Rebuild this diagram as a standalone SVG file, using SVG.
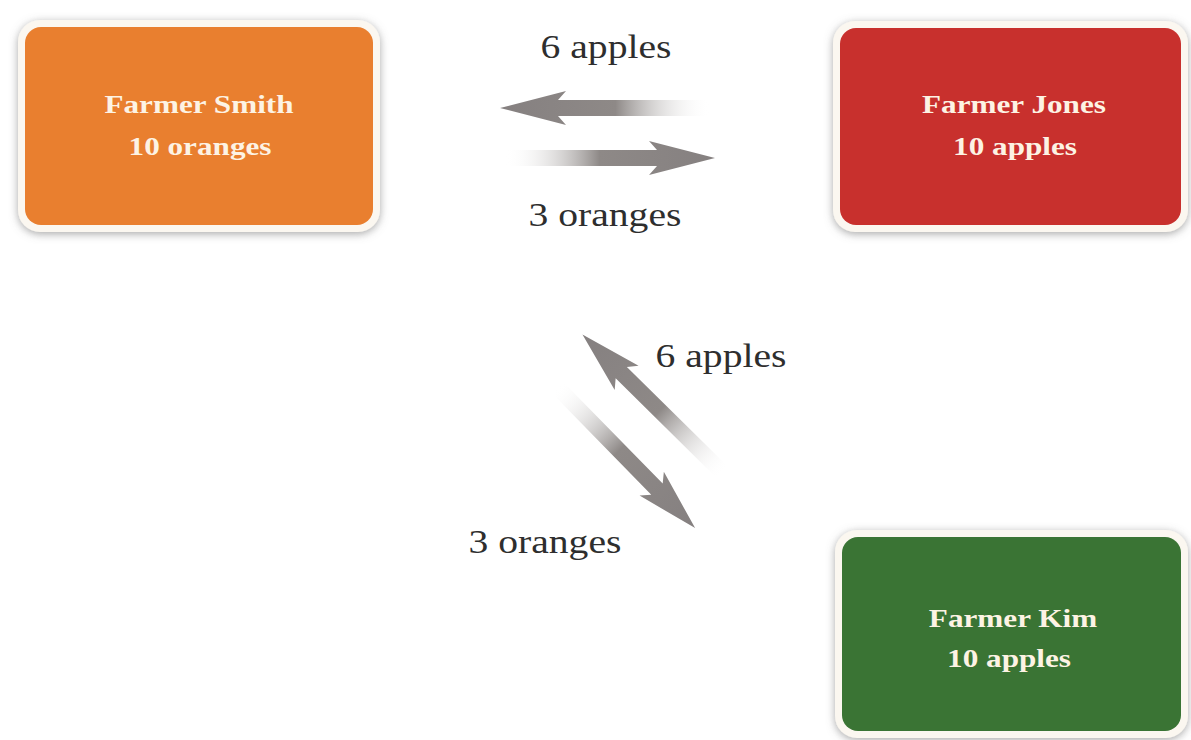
<svg xmlns="http://www.w3.org/2000/svg" xmlns:xlink="http://www.w3.org/1999/xlink" width="1191" height="740" viewBox="0 0 1191 740">
<defs>
<style>
.frame{fill:#fbf7f0;filter:url(#shadow)}
.ntext{font-family:"Liberation Serif","Times New Roman",serif;font-weight:bold;font-size:26px;fill:#fdf3e4;text-anchor:middle}
.label{font-family:"Liberation Serif","Times New Roman",serif;font-size:33px;fill:#2e2e2e;text-anchor:middle}
</style>
<filter id="shadow" x="-10%" y="-10%" width="120%" height="125%">
<feDropShadow dx="0" dy="2" stdDeviation="4" flood-color="#6e6e6e" flood-opacity="0.6"/>
</filter>
<linearGradient id="fade" x1="0" y1="0" x2="1" y2="0">
<stop offset="0" stop-color="#ffffff" stop-opacity="0"/>
<stop offset="0.45" stop-color="#8e8987"/>
<stop offset="1" stop-color="#858080"/>
</linearGradient>
<path id="arrow" d="M0,-8 L152,-8 L144,-17 L210,0 L144,17 L152,8 L0,8 Z" fill="url(#fade)"/>
</defs>
<rect width="1191" height="740" fill="#ffffff"/>
<g id="connectors">
<use xlink:href="#arrow" transform="translate(710,108) rotate(180)"/>
<use xlink:href="#arrow" transform="translate(505,158)"/>
<use xlink:href="#arrow" transform="translate(723,473) rotate(-135.4) scale(0.94,1)"/>
<use xlink:href="#arrow" transform="translate(557,387) rotate(45.6) scale(0.94,1)"/>
<text class="label" transform="translate(606,58) scale(1.2,1)">6 apples</text>
<text class="label" transform="translate(605,226) scale(1.2,1)">3 oranges</text>
<text class="label" transform="translate(721,367) scale(1.2,1)">6 apples</text>
<text class="label" transform="translate(545,553) scale(1.2,1)">3 oranges</text>
</g>
<g id="smith">
<rect class="frame" x="18" y="20" width="362" height="212" rx="22"/>
<rect x="25" y="27" width="348" height="198" rx="16" fill="#e97f2f"/>
<text class="ntext" transform="translate(199,113) scale(1.2,1)">Farmer Smith</text>
<text class="ntext" transform="translate(200,155) scale(1.2,1)">10 oranges</text>
</g>
<g id="jones">
<rect class="frame" x="833" y="21" width="355" height="211" rx="22"/>
<rect x="840" y="28" width="341" height="197" rx="16" fill="#c8302d"/>
<text class="ntext" transform="translate(1014,113) scale(1.2,1)">Farmer Jones</text>
<text class="ntext" transform="translate(1015,155) scale(1.2,1)">10 apples</text>
</g>
<g id="kim">
<rect class="frame" x="835" y="530" width="353" height="208" rx="22"/>
<rect x="842" y="537" width="339" height="194" rx="16" fill="#3a7434"/>
<text class="ntext" transform="translate(1013,627) scale(1.2,1)">Farmer Kim</text>
<text class="ntext" transform="translate(1009,667) scale(1.2,1)">10 apples</text>
</g>
</svg>
